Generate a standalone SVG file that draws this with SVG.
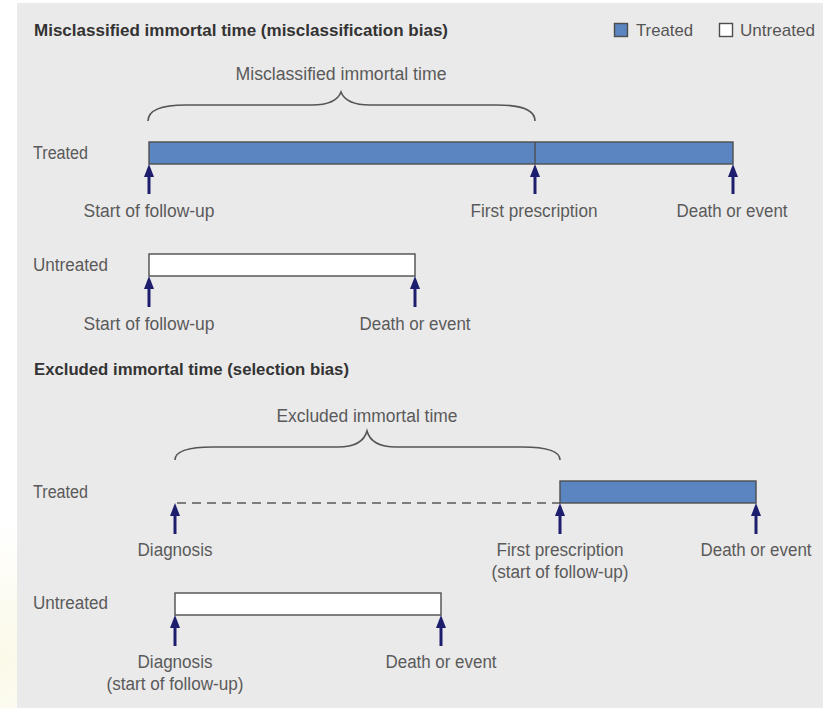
<svg xmlns="http://www.w3.org/2000/svg" width="823" height="708" viewBox="0 0 823 708">
<defs>
<style>
.t{font-family:"Liberation Sans",Arial,sans-serif;font-size:18px;fill:#5a5a5a}
.h{font-family:"Liberation Sans",Arial,sans-serif;font-size:17px;font-weight:bold;fill:#333333}
.lg{font-family:"Liberation Sans",Arial,sans-serif;font-size:17px;fill:#555555}
.bt{fill:#5b85c0;stroke:#4d4d4d;stroke-width:1.4}
.bu{fill:#ffffff;stroke:#4d4d4d;stroke-width:1.4}
.br{fill:none;stroke:#555555;stroke-width:1.6}
.ar{stroke:#1e1e6e;stroke-width:3;fill:none;marker-end:url(#ah)}
.ds{stroke:#5a5a5a;stroke-width:1.4;stroke-dasharray:9 6;fill:none}
</style>
<marker id="ah" markerUnits="userSpaceOnUse" markerWidth="13" markerHeight="11" refX="7" refY="5" orient="auto" viewBox="0 0 13 10">
<path d="M0,0 L13,5 L0,10 z" fill="#1e1e6e"/>
</marker>
<radialGradient id="glow" cx="0" cy="660" r="140" gradientUnits="userSpaceOnUse">
<stop offset="0" stop-color="#fbf9e8"/>
<stop offset="1" stop-color="#ffffff"/>
</radialGradient>
</defs>
<rect x="0" y="0" width="823" height="708" fill="url(#glow)"/>
<rect x="17" y="3" width="806" height="705" fill="#ebeaea"/>

<g id="title1"><text class="h" x="34" y="36" textLength="414" lengthAdjust="spacingAndGlyphs">Misclassified immortal time (misclassification bias)</text></g>
<g id="legend">
<rect x="614.5" y="23.5" width="13" height="13" class="bt"/>
<text class="lg" x="636" y="36" textLength="57" lengthAdjust="spacingAndGlyphs">Treated</text>
<rect x="719.5" y="23.5" width="13" height="13" class="bu"/>
<text class="lg" x="740" y="36" textLength="75" lengthAdjust="spacingAndGlyphs">Untreated</text>
</g>

<g id="brace1">
<path class="br" d="M148,121 C148,111 160,105 186,105 L312,105 C329,105 338,100 341,92 C344,100 353,105 370,105 L497,105 C523,105 535,111 535,121"/>
<text class="t" x="341" y="80" text-anchor="middle" textLength="211" lengthAdjust="spacingAndGlyphs">Misclassified immortal time</text>
</g>

<g id="treated1">
<text class="t" x="33" y="159" textLength="55" lengthAdjust="spacingAndGlyphs">Treated</text>
<rect x="149" y="142" width="584" height="22" class="bt"/>
<line x1="535" y1="142" x2="535" y2="164" stroke="#4d4d4d" stroke-width="1.4"/>
<text class="t" x="149" y="217" text-anchor="middle" textLength="131" lengthAdjust="spacingAndGlyphs">Start of follow-up</text>
<text class="t" x="534" y="217" text-anchor="middle" textLength="127" lengthAdjust="spacingAndGlyphs">First prescription</text>
<text class="t" x="732" y="217" text-anchor="middle" textLength="111" lengthAdjust="spacingAndGlyphs">Death or event</text>
</g>

<g id="untreated1">
<text class="t" x="33" y="271" textLength="75" lengthAdjust="spacingAndGlyphs">Untreated</text>
<rect x="149" y="254" width="266" height="22" class="bu"/>
<text class="t" x="149" y="330" text-anchor="middle" textLength="131" lengthAdjust="spacingAndGlyphs">Start of follow-up</text>
<text class="t" x="415" y="330" text-anchor="middle" textLength="111" lengthAdjust="spacingAndGlyphs">Death or event</text>
</g>

<g id="title2"><text class="h" x="34" y="375" textLength="315" lengthAdjust="spacingAndGlyphs">Excluded immortal time (selection bias)</text></g>

<g id="brace2">
<path class="br" d="M175,460 C175,451 187,447 213,447 L338,447 C355,447 364,442 367,431 C370,442 379,447 396,447 L522,447 C548,447 560,451 560,460"/>
<text class="t" x="367" y="422" text-anchor="middle" textLength="181" lengthAdjust="spacingAndGlyphs">Excluded immortal time</text>
</g>

<g id="treated2">
<text class="t" x="33" y="498" textLength="55" lengthAdjust="spacingAndGlyphs">Treated</text>
<line class="ds" x1="177" y1="503" x2="560" y2="503"/>
<rect x="560" y="481" width="196" height="22" class="bt"/>
<text class="t" x="175" y="556" text-anchor="middle" textLength="75" lengthAdjust="spacingAndGlyphs">Diagnosis</text>
<text class="t" x="560" y="556" text-anchor="middle" textLength="127" lengthAdjust="spacingAndGlyphs">First prescription</text>
<text class="t" x="560" y="578" text-anchor="middle" textLength="137" lengthAdjust="spacingAndGlyphs">(start of follow-up)</text>
<text class="t" x="756" y="556" text-anchor="middle" textLength="111" lengthAdjust="spacingAndGlyphs">Death or event</text>
</g>

<g id="untreated2">
<text class="t" x="33" y="609" textLength="75" lengthAdjust="spacingAndGlyphs">Untreated</text>
<rect x="175" y="593" width="266" height="22" class="bu"/>
<text class="t" x="175" y="668" text-anchor="middle" textLength="75" lengthAdjust="spacingAndGlyphs">Diagnosis</text>
<text class="t" x="175" y="690" text-anchor="middle" textLength="137" lengthAdjust="spacingAndGlyphs">(start of follow-up)</text>
<text class="t" x="441" y="668" text-anchor="middle" textLength="111" lengthAdjust="spacingAndGlyphs">Death or event</text>
</g>

<g id="connectors">
<line class="ar" x1="149" y1="194" x2="149" y2="170"/>
<line class="ar" x1="535" y1="194" x2="535" y2="170"/>
<line class="ar" x1="733" y1="194" x2="733" y2="170"/>
<line class="ar" x1="149" y1="307" x2="149" y2="282"/>
<line class="ar" x1="415" y1="307" x2="415" y2="282"/>
<line class="ar" x1="175" y1="534" x2="175" y2="509"/>
<line class="ar" x1="560" y1="534" x2="560" y2="509"/>
<line class="ar" x1="756" y1="534" x2="756" y2="509"/>
<line class="ar" x1="175" y1="646" x2="175" y2="621"/>
<line class="ar" x1="441" y1="646" x2="441" y2="621"/>
</g>
</svg>
